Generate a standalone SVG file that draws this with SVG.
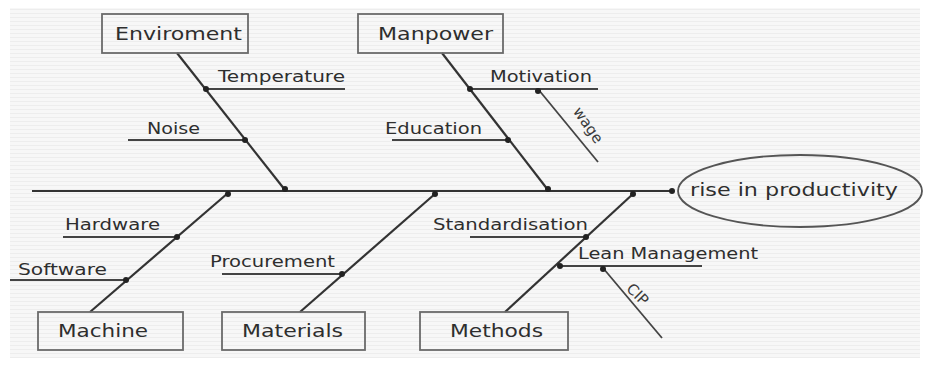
<svg xmlns="http://www.w3.org/2000/svg" width="926" height="365" viewBox="0 0 926 365">
  <defs>
    <pattern id="bgLines" width="8" height="4" patternUnits="userSpaceOnUse">
      <rect width="8" height="4" fill="#f7f7f7"/>
      <line x1="0" y1="1.5" x2="8" y2="1.5" stroke="#ededed" stroke-width="1"/>
    </pattern>
    <style>
      .box { fill: none; stroke: #6a6a6a; stroke-width: 1.8; }
      .lbl { font-family: "DejaVu Sans", Verdana, sans-serif; font-size: 18px; fill: #2e2e2e; }
      .sub { font-family: "DejaVu Sans", Verdana, sans-serif; font-size: 16px; fill: #2e2e2e; }
      .tiny { font-family: "DejaVu Sans", Verdana, sans-serif; font-size: 15px; fill: #3a3a3a; }
      .bone { stroke: #333; stroke-width: 2.2; fill: none; }
      .twig { stroke: #444; stroke-width: 1.8; fill: none; }
      .dot { fill: #222; }
    </style>
  </defs>
  <rect x="0" y="0" width="926" height="365" fill="#ffffff"/>
  <rect x="10" y="8" width="910" height="350" fill="url(#bgLines)"/>

  <g id="connectors">
    <line class="bone" x1="32" y1="191" x2="672" y2="191"/>
    <circle class="dot" cx="672" cy="191" r="3"/>
    <line class="bone" x1="177" y1="53" x2="285" y2="190"/>
    <circle class="dot" cx="285" cy="189" r="3"/>
    <line class="twig" x1="205" y1="89" x2="345" y2="89"/>
    <circle class="dot" cx="206" cy="89" r="3"/>
    <line class="twig" x1="128" y1="140" x2="245" y2="140"/>
    <circle class="dot" cx="245" cy="140" r="3"/>
    <line class="bone" x1="442" y1="53" x2="548" y2="190"/>
    <circle class="dot" cx="548" cy="189" r="3"/>
    <line class="twig" x1="470" y1="89" x2="598" y2="89"/>
    <circle class="dot" cx="470" cy="89" r="3"/>
    <line class="twig" x1="538" y1="89" x2="598" y2="162"/>
    <circle class="dot" cx="538" cy="91" r="3"/>
    <line class="twig" x1="392" y1="140" x2="509" y2="140"/>
    <circle class="dot" cx="508" cy="140" r="3"/>
    <line class="bone" x1="90" y1="312" x2="228" y2="193"/>
    <circle class="dot" cx="228" cy="194" r="3"/>
    <line class="twig" x1="63" y1="237" x2="177" y2="237"/>
    <circle class="dot" cx="177" cy="237" r="3"/>
    <line class="twig" x1="10" y1="280" x2="127" y2="280"/>
    <circle class="dot" cx="126" cy="280" r="3"/>
    <line class="bone" x1="300" y1="312" x2="436" y2="193"/>
    <circle class="dot" cx="435" cy="194" r="3"/>
    <line class="twig" x1="222" y1="274" x2="343" y2="274"/>
    <circle class="dot" cx="342" cy="274" r="3"/>
    <line class="bone" x1="505" y1="312" x2="634" y2="193"/>
    <circle class="dot" cx="633" cy="194" r="3"/>
    <line class="twig" x1="470" y1="237" x2="586" y2="237"/>
    <circle class="dot" cx="586" cy="237" r="3"/>
    <line class="twig" x1="558" y1="266" x2="702" y2="266"/>
    <circle class="dot" cx="560" cy="266" r="3"/>
    <line class="twig" x1="603" y1="268" x2="662" y2="338"/>
    <circle class="dot" cx="603" cy="269" r="3"/>
  </g>

  <g id="node-enviroment">
    <rect class="box" x="102" y="14" width="146" height="39"/>
    <text class="lbl" x="115" y="40" textLength="127" lengthAdjust="spacingAndGlyphs">Enviroment</text>
  </g>
  <g id="node-manpower">
    <rect class="box" x="358" y="14" width="145" height="39"/>
    <text class="lbl" x="378" y="40" textLength="115" lengthAdjust="spacingAndGlyphs">Manpower</text>
  </g>
  <g id="node-machine">
    <rect class="box" x="38" y="312" width="145" height="38"/>
    <text class="lbl" x="58" y="337" textLength="90" lengthAdjust="spacingAndGlyphs">Machine</text>
  </g>
  <g id="node-materials">
    <rect class="box" x="222" y="312" width="143" height="38"/>
    <text class="lbl" x="242" y="337" textLength="101" lengthAdjust="spacingAndGlyphs">Materials</text>
  </g>
  <g id="node-methods">
    <rect class="box" x="420" y="312" width="148" height="38"/>
    <text class="lbl" x="450" y="337" textLength="93" lengthAdjust="spacingAndGlyphs">Methods</text>
  </g>
  <g id="node-effect">
    <ellipse cx="800" cy="191" rx="122" ry="36" fill="none" stroke="#555" stroke-width="1.8"/>
    <text class="lbl" x="690" y="196" textLength="208" lengthAdjust="spacingAndGlyphs">rise in productivity</text>
  </g>

  <g id="labels">
    <text class="sub" x="218" y="82" textLength="127" lengthAdjust="spacingAndGlyphs">Temperature</text>
    <text class="sub" x="147" y="134" textLength="53" lengthAdjust="spacingAndGlyphs">Noise</text>
    <text class="sub" x="490" y="82" textLength="102" lengthAdjust="spacingAndGlyphs">Motivation</text>
    <text class="sub" x="385" y="134" textLength="97" lengthAdjust="spacingAndGlyphs">Education</text>
    <text class="sub" x="65" y="230" textLength="95" lengthAdjust="spacingAndGlyphs">Hardware</text>
    <text class="sub" x="18" y="275" textLength="89" lengthAdjust="spacingAndGlyphs">Software</text>
    <text class="sub" x="210" y="267" textLength="125" lengthAdjust="spacingAndGlyphs">Procurement</text>
    <text class="sub" x="433" y="230" textLength="155" lengthAdjust="spacingAndGlyphs">Standardisation</text>
    <text class="sub" x="578" y="259" textLength="180" lengthAdjust="spacingAndGlyphs">Lean Management</text>
    <text class="tiny" x="0" y="0" text-anchor="middle" transform="translate(584,128) rotate(55)">wage</text>
    <text class="tiny" x="0" y="0" text-anchor="middle" transform="translate(634,298) rotate(45)">CIP</text>
  </g>
</svg>
